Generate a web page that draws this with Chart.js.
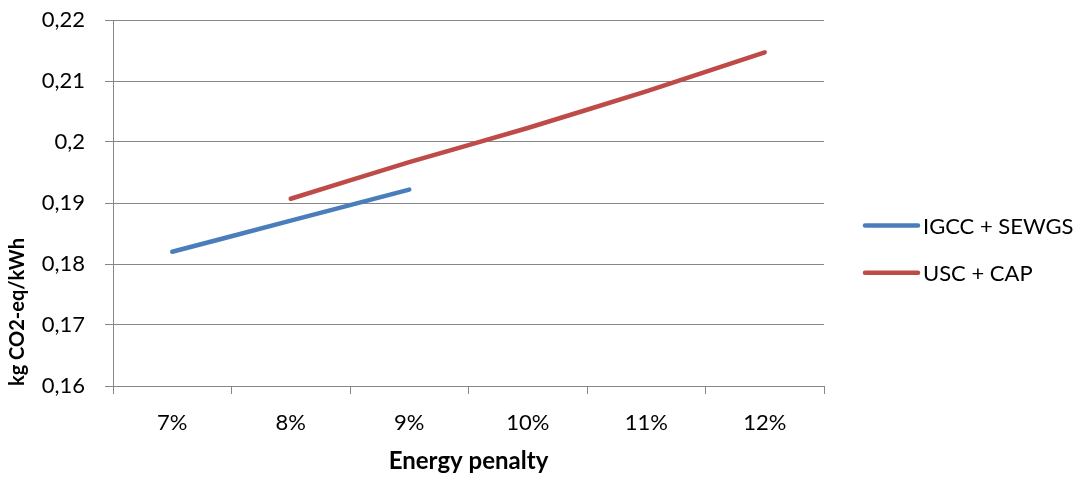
<!DOCTYPE html>
<html>
<head>
<meta charset="utf-8">
<script src="https://cdn.jsdelivr.net/npm/chart.js@4.4.1/dist/chart.umd.min.js"></script>
<style>
  html, body { margin: 0; padding: 0; background: #fff; }
  #wrap { width: 1084px; height: 477px; position: relative; }
</style>
</head>
<body>
<div id="wrap"><canvas id="c"></canvas></div>
<script>
// Energy penalty categories and emission factors (kg CO2-eq per kWh)
const categories = ['7%', '8%', '9%', '10%', '11%', '12%'];
const igccSewgs = [0.1820, 0.1871, 0.1922, null, null, null];
const uscCap = [null, 0.1907, 0.1967, 0.2023, 0.2083, 0.2147];
const seriesNames = ['IGCC + SEWGS', 'USC + CAP'];
const yTicks = [0.16, 0.17, 0.18, 0.19, 0.20, 0.21, 0.22];

const FONT = 'Lato, "Open Sans", sans-serif';
const AXIS_GREY = '#868686';

// Legend drawn to the right of the plot, line sample + label
const sideLegend = {
  id: 'sideLegend',
  afterDraw(chart) {
    const ctx = chart.ctx;
    const area = chart.chartArea;
    const x0 = area.right + 39;
    const mid = (area.top + area.bottom) / 2;
    chart.data.datasets.forEach((ds, i) => {
      const y = mid + 22.5 + i * 47.3;
      ctx.save();
      ctx.strokeStyle = ds.borderColor;
      ctx.lineWidth = ds.borderWidth;
      ctx.lineCap = 'round';
      ctx.beginPath();
      ctx.moveTo(x0 + 2, y);
      ctx.lineTo(x0 + 55, y);
      ctx.stroke();
      ctx.fillStyle = '#000';
      ctx.font = '22px ' + FONT;
      ctx.textBaseline = 'middle';
      ctx.textAlign = 'left';
      ctx.fillText(ds.label, x0 + 60, y + 1);
      ctx.restore();
    });
  }
};

new Chart(document.getElementById('c'), {
  type: 'line',
  data: {
    labels: categories,
    datasets: [
      {
        label: seriesNames[0],
        data: igccSewgs,
        borderColor: '#4A7EBB',
        backgroundColor: '#4A7EBB',
        borderWidth: 4.5,
        borderCapStyle: 'round',
        borderJoinStyle: 'round',
        pointRadius: 0,
        tension: 0.1,
        spanGaps: false
      },
      {
        label: seriesNames[1],
        data: uscCap,
        borderColor: '#BE4B48',
        backgroundColor: '#BE4B48',
        borderWidth: 4.5,
        borderCapStyle: 'round',
        borderJoinStyle: 'round',
        pointRadius: 0,
        tension: 0.1,
        spanGaps: false
      }
    ]
  },
  options: {
    responsive: true,
    maintainAspectRatio: false,
    animation: false,
    layout: { padding: { top: 20, right: 260, left: 0, bottom: 0 } },
    plugins: {
      legend: { display: false },
      tooltip: { enabled: false }
    },
    scales: {
      x: {
        offset: true,
        grid: {
          offset: true,
          drawOnChartArea: false,
          drawTicks: true,
          tickLength: 8,
          color: AXIS_GREY,
          lineWidth: 1
        },
        border: { color: AXIS_GREY, width: 1 },
        ticks: {
          color: '#000',
          font: { family: FONT, size: 22 },
          padding: 16,
          maxRotation: 0
        },
        title: {
          display: true,
          text: 'Energy penalty',
          color: '#000',
          font: { family: FONT, size: 24, weight: 'bold' },
          padding: { top: 0, bottom: 1 }
        },
        afterFit(scale) {
          scale.height = 91;
          scale.paddingLeft = 0;
          scale.paddingRight = 0;
        }
      },
      y: {
        min: yTicks[0],
        max: yTicks[yTicks.length - 1],
        afterBuildTicks(scale) {
          scale.ticks = yTicks.map(v => ({ value: v }));
        },
        grid: {
          color: AXIS_GREY,
          lineWidth: 1,
          drawTicks: true,
          tickLength: 8
        },
        border: { color: AXIS_GREY, width: 1 },
        ticks: {
          color: '#000',
          font: { family: FONT, size: 22 },
          padding: 20,
          callback(v) { return Number(v.toFixed(2)).toString().replace('.', ','); }
        },
        title: {
          display: true,
          text: 'kg CO2-eq/kWh',
          align: 'start',
          color: '#000',
          font: { family: FONT, size: 20, weight: 'bold' },
          padding: { top: 6, bottom: 0 }
        },
        afterFit(scale) {
          scale.width = 113;
          scale.paddingTop = 0;
          scale.paddingBottom = 0;
        }
      }
    }
  },
  plugins: [sideLegend]
});
</script>
</body>
</html>
